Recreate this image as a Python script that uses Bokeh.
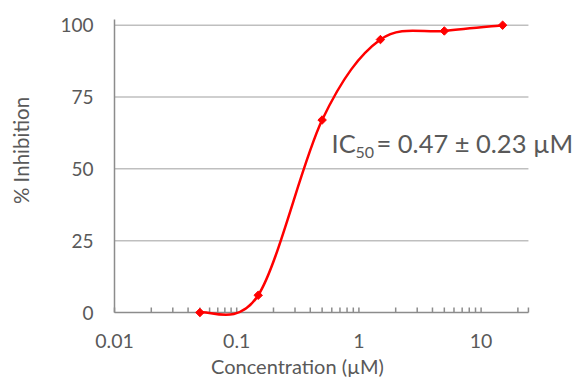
import numpy as np
from bokeh.plotting import figure
from bokeh.models import Range1d, Label
from bokeh.core.properties import value
from bokeh.embed import file_html
from bokeh.resources import INLINE

# ---- data ----
conc = [0.05, 0.15, 0.5, 1.5, 5, 15]
inhibition = [0, 6, 67, 95, 98, 100]
x_major = [0.01, 0.1, 1, 10]
x_major_labels = ["0.01", "0.1", "1", "10"]
y_ticks = [0, 25, 50, 75, 100]
y_tick_labels = ["0", "25", "50", "75", "100"]
x_title = "Concentration (µM)"
y_title = "% Inhibition"
ann_main = "IC"
ann_sub = "50"
ann_rest = "= 0.47 ± 0.23 µM"

# ---- style / layout ----
FONT = "Lato"
TXT = "#595959"
AX = "#8C8C8C"
GRID = "#BFBFBF"
RED = "#FF0000"
XMIN = 0.01          # left end of axis
XEND = 24.4          # right end of drawn axis / gridlines
YTOP = 102           # top of vertical axis line
PPD = 122.2          # pixels per decade
PPU = 2.873          # pixels per % unit
# pixel anchors: x=0.01 at px 114, y=0 at px 312
def px2x(px):
    return 10 ** (np.log10(XMIN) + (px - 114) / PPD)
def py2y(py):
    return (312 - py) / PPU

W, H = 577, 379

p = figure(width=W, height=H, x_axis_type="log",
           x_axis_location=None, y_axis_location=None,
           x_range=Range1d(px2x(0), px2x(W)),
           y_range=Range1d(py2y(H), py2y(0)),
           min_border=0, output_backend="svg", toolbar_location=None)
p.outline_line_color = None
p.background_fill_color = "white"
p.border_fill_color = "white"
p.grid.grid_line_color = None

# horizontal gridlines
grid_y = [t for t in y_ticks if t > 0]
p.segment(x0=[XMIN] * len(grid_y), y0=grid_y, x1=[XEND] * len(grid_y), y1=grid_y,
          line_color=GRID, line_width=1.5)
# axis lines
p.segment(x0=[XMIN], y0=[0], x1=[XMIN], y1=[YTOP], line_color=AX, line_width=1.5)
p.segment(x0=[XMIN], y0=[0], x1=[XEND], y1=[0], line_color=AX, line_width=1.5)
# x ticks (inward, upward)
tick_x = [m * d for d in x_major for m in range(1, 10) if m * d <= XEND] + [XEND]
tick_len = 5 / PPU
p.segment(x0=tick_x, y0=[0] * len(tick_x), x1=tick_x, y1=[tick_len] * len(tick_x),
          line_color=AX, line_width=1.5)

# tick labels and axis titles
p.text(x=x_major, y=[py2y(340.5)] * len(x_major), text=x_major_labels,
       text_font=value(FONT), text_font_size="19.5px", text_color=TXT,
       text_align="center", text_baseline="middle")
p.text(x=[px2x(93)] * len(y_ticks), y=y_ticks, text=y_tick_labels,
       text_font=value(FONT), text_font_size="19px", text_color=TXT,
       text_align="right", text_baseline="middle")
p.text(x=[px2x(297)], y=[py2y(365)], text=[x_title],
       text_font=value(FONT), text_font_size="20px", text_color=TXT,
       text_align="center", text_baseline="middle")
p.text(x=[px2x(20.5)], y=[py2y(150)], text=[y_title], angle=np.pi / 2,
       text_font=value(FONT), text_font_size="20.5px", text_color=TXT,
       text_align="center", text_baseline="middle")

# smoothed curve (Excel-like Catmull-Rom) in log-x space
lx = np.log10(np.array(conc, dtype=float))
yy = np.array(inhibition, dtype=float)
n = len(lx)
seg = {k: [] for k in ["x0", "y0", "x1", "y1", "cx0", "cy0", "cx1", "cy1"]}
for i in range(n - 1):
    a, b = max(i - 1, 0), min(i + 2, n - 1)
    c1x = lx[i] + (lx[i + 1] - lx[a]) / 6
    c1y = yy[i] + (yy[i + 1] - yy[a]) / 6
    c2x = lx[i + 1] - (lx[b] - lx[i]) / 6
    c2y = yy[i + 1] - (yy[b] - yy[i]) / 6
    seg["x0"].append(10 ** lx[i]); seg["y0"].append(yy[i])
    seg["x1"].append(10 ** lx[i + 1]); seg["y1"].append(yy[i + 1])
    seg["cx0"].append(10 ** c1x); seg["cy0"].append(c1y)
    seg["cx1"].append(10 ** c2x); seg["cy1"].append(c2y)
p.bezier(**seg, line_color=RED, line_width=2.5)
p.scatter(conc, inhibition, marker="square", angle=np.pi / 4, size=6, color=RED)

# annotation (baseline compensated)
p.add_layout(Label(x=px2x(331), y=py2y(142.5), text=ann_main, text_font=FONT,
                   text_font_size="25.5px", text_color=TXT, text_baseline="alphabetic"))
p.add_layout(Label(x=px2x(355), y=py2y(151.7), text=ann_sub, text_font=FONT,
                   text_font_size="16px", text_color=TXT, text_baseline="alphabetic"))
p.add_layout(Label(x=px2x(376), y=py2y(142.5), text=ann_rest, text_font=FONT,
                   text_font_size="25.5px", text_color=TXT, text_baseline="alphabetic"))

open("out.html", "w").write(file_html(p, INLINE))
